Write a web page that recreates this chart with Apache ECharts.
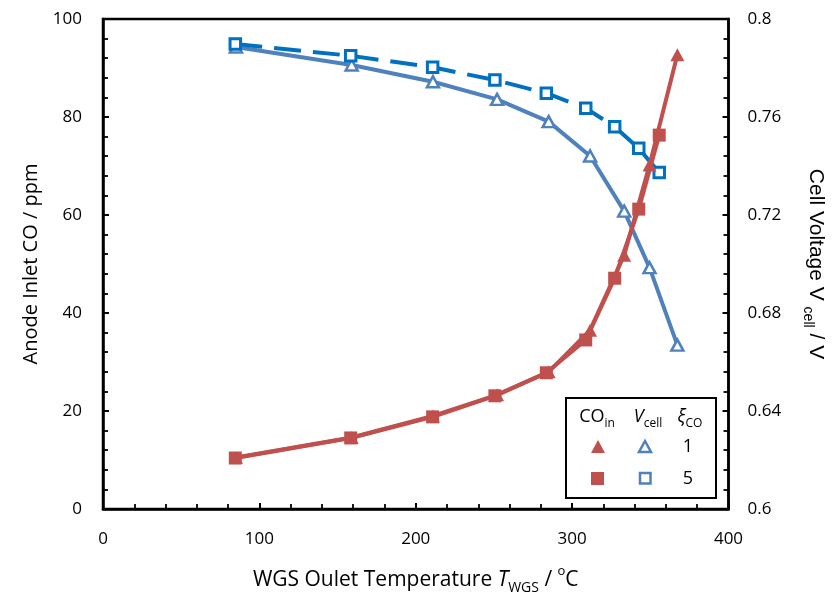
<!DOCTYPE html>
<html><head><meta charset="utf-8">
<script src="https://cdn.jsdelivr.net/npm/echarts@6/dist/echarts.min.js"></script>
<style>html,body{margin:0;padding:0;background:#fff}#c{width:834px;height:604px}</style>
</head><body><div id="c"></div>
<script>
// xi_CO = 1
const temp1 = [85, 159, 211, 252, 285, 311.5, 333.3, 349.5, 367.3];
const coIn1 = [10.5, 14.6, 19.0, 23.3, 28.0, 36.5, 51.8, 70.2, 92.7];
const vCell1 = [0.7886, 0.7812, 0.7744, 0.7672, 0.7581, 0.7441, 0.7216, 0.6985, 0.6669];
// xi_CO = 5
const temp5 = [84.6, 158.4, 210.8, 250.6, 283.5, 308.7, 327.2, 342.6, 355.7];
const coIn5 = [10.4, 14.5, 18.8, 23.1, 27.8, 34.5, 47.1, 61.2, 76.3];
const vCell5 = [0.7898, 0.7850, 0.7803, 0.7751, 0.7697, 0.7636, 0.7560, 0.7472, 0.7373];
// axis ticks
const xTicks = [0, 100, 200, 300, 400];
const yLeftTicks = [0, 20, 40, 60, 80, 100];
const yRightTicks = [0.6, 0.64, 0.68, 0.72, 0.76, 0.8];

const RED = '#C0504D', BLUE1 = '#4F81BD', BLUE5 = '#0070C0';
const FONT = 'Open Sans';
const pairs = (xs, ys) => xs.map((x, i) => [x, ys[i]]);

const chart = echarts.init(document.getElementById('c'), null, {renderer: 'canvas'});

const axisCommon = {
  axisLine: {show: true, onZero: false, lineStyle: {color: '#000', width: 2.5}},
  axisTick: {show: true, inside: true, length: 6, lineStyle: {color: '#000', width: 2}},
  minorTick: {show: true, splitNumber: 5, length: 5, lineStyle: {color: '#000', width: 1.8}},
  splitLine: {show: false},
  axisLabel: {color: '#000', fontFamily: FONT, fontSize: 17}
};
const titleRich = {
  n: {fontFamily: FONT, fontSize: 21, color: '#000', lineHeight: 30},
  i: {fontFamily: FONT, fontSize: 21, color: '#000', fontStyle: 'italic', lineHeight: 30},
  s: {fontFamily: FONT, fontSize: 14, color: '#000', verticalAlign: 'bottom'},
  u: {fontFamily: FONT, fontSize: 13, color: '#000', verticalAlign: 'top'}
};
const rightRich = {
  n: {fontFamily: 'Liberation Sans', fontSize: 21, color: '#000', lineHeight: 30},
  s: {fontFamily: 'Liberation Sans', fontSize: 14, color: '#000', verticalAlign: 'bottom'}
};

const option = {
  animation: false,
  backgroundColor: '#fff',
  grid: {left: 103, right: 98, top: 19, bottom: 95, show: true, borderColor: '#000', borderWidth: 2.5, backgroundColor: 'transparent'},
  xAxis: Object.assign({}, axisCommon, {
    type: 'value', min: xTicks[0], max: xTicks[xTicks.length - 1], interval: xTicks[1] - xTicks[0],
    axisLabel: Object.assign({}, axisCommon.axisLabel, {margin: 22}),
    name: '{n|WGS Oulet Temperature }{i|T}{s|WGS}{n| / }{u|o}{n|C}',
    nameLocation: 'middle', nameGap: 56,
    nameTextStyle: {rich: titleRich}
  }),
  yAxis: [
    Object.assign({}, axisCommon, {
      type: 'value', position: 'left', min: yLeftTicks[0], max: yLeftTicks[yLeftTicks.length - 1], interval: yLeftTicks[1] - yLeftTicks[0],
      axisLabel: Object.assign({}, axisCommon.axisLabel, {margin: 21}),
      name: 'Anode Inlet CO / ppm', nameLocation: 'middle', nameGap: 62, nameRotate: 90,
      nameTextStyle: {fontFamily: FONT, fontSize: 20, color: '#000'}
    }),
    Object.assign({}, axisCommon, {
      type: 'value', position: 'right', min: yRightTicks[0], max: yRightTicks[yRightTicks.length - 1], interval: 0.04,
      axisLabel: Object.assign({}, axisCommon.axisLabel, {margin: 19, formatter: v => String(Math.round(v * 100) / 100)}),
      name: '{n|Cell Voltage V }{s|cell}{n| / V}', nameLocation: 'middle', nameGap: 72, nameRotate: -90,
      nameTextStyle: {rich: rightRich}
    })
  ],
  series: [
    {
      type: 'line', yAxisIndex: 1, data: pairs(temp1, vCell1), symbol: 'triangle', symbolSize: [12, 11],
      lineStyle: {color: BLUE1, width: 4}, itemStyle: {color: '#fff', borderColor: BLUE1, borderWidth: 2.5}, z: 3
    },
    {
      type: 'line', yAxisIndex: 1, data: pairs(temp5, vCell5), symbol: 'rect', symbolSize: 10.5,
      lineStyle: {color: BLUE5, width: 4, type: [27, 12]}, itemStyle: {color: '#fff', borderColor: BLUE5, borderWidth: 3}, z: 4
    },
    {
      type: 'line', yAxisIndex: 0, data: pairs(temp5, coIn5), symbol: 'rect', symbolSize: 13,
      lineStyle: {color: RED, width: 4}, itemStyle: {color: RED}, z: 5
    },
    {
      type: 'line', yAxisIndex: 0, data: pairs(temp1, coIn1), symbol: 'triangle', symbolSize: [14, 13],
      lineStyle: {color: RED, width: 4}, itemStyle: {color: RED}, z: 6
    }
  ],
  graphic: [
    {type: 'rect', left: 565, top: 397, shape: {width: 150, height: 100}, style: {fill: '#fff', stroke: '#000', lineWidth: 2}, z: 100},
    {type: 'text', x: 597, y: 417, z: 101, style: {text: '{n|CO}{s|in}', align: 'center', verticalAlign: 'middle', rich: {
      n: {fontFamily: FONT, fontSize: 18, fill: '#000', lineHeight: 26}, s: {fontFamily: FONT, fontSize: 12, fill: '#000', verticalAlign: 'bottom'}}}},
    {type: 'text', x: 648, y: 417, z: 101, style: {text: '{i|V}{s|cell}', align: 'center', verticalAlign: 'middle', rich: {
      i: {fontFamily: FONT, fontSize: 18, fontStyle: 'italic', fill: '#000', lineHeight: 26}, s: {fontFamily: FONT, fontSize: 12, fill: '#000', verticalAlign: 'bottom'}}}},
    {type: 'text', x: 690, y: 417, z: 101, style: {text: '{i|ξ}{s|CO}', align: 'center', verticalAlign: 'middle', rich: {
      i: {fontFamily: FONT, fontSize: 18, fontStyle: 'italic', fill: '#000', lineHeight: 26}, s: {fontFamily: FONT, fontSize: 12, fill: '#000', verticalAlign: 'bottom'}}}},
    {type: 'polygon', z: 101, shape: {points: [[598, 440], [605, 453], [591, 453]]}, style: {fill: RED}},
    {type: 'polygon', z: 101, shape: {points: [[645, 441], [651, 452], [639, 452]]}, style: {fill: '#fff', stroke: BLUE1, lineWidth: 2.5}},
    {type: 'text', x: 688, y: 447, z: 101, style: {text: '1', align: 'center', verticalAlign: 'middle', fontFamily: FONT, fontSize: 18, fill: '#000'}},
    {type: 'rect', z: 101, shape: {x: 591, y: 472, width: 13, height: 13}, style: {fill: RED}},
    {type: 'rect', z: 101, shape: {x: 640, y: 473, width: 10.5, height: 10.5}, style: {fill: '#fff', stroke: BLUE1, lineWidth: 2.5}},
    {type: 'text', x: 688, y: 479, z: 101, style: {text: '5', align: 'center', verticalAlign: 'middle', fontFamily: FONT, fontSize: 18, fill: '#000'}}
  ]
};
chart.setOption(option);
</script>
</body></html>
